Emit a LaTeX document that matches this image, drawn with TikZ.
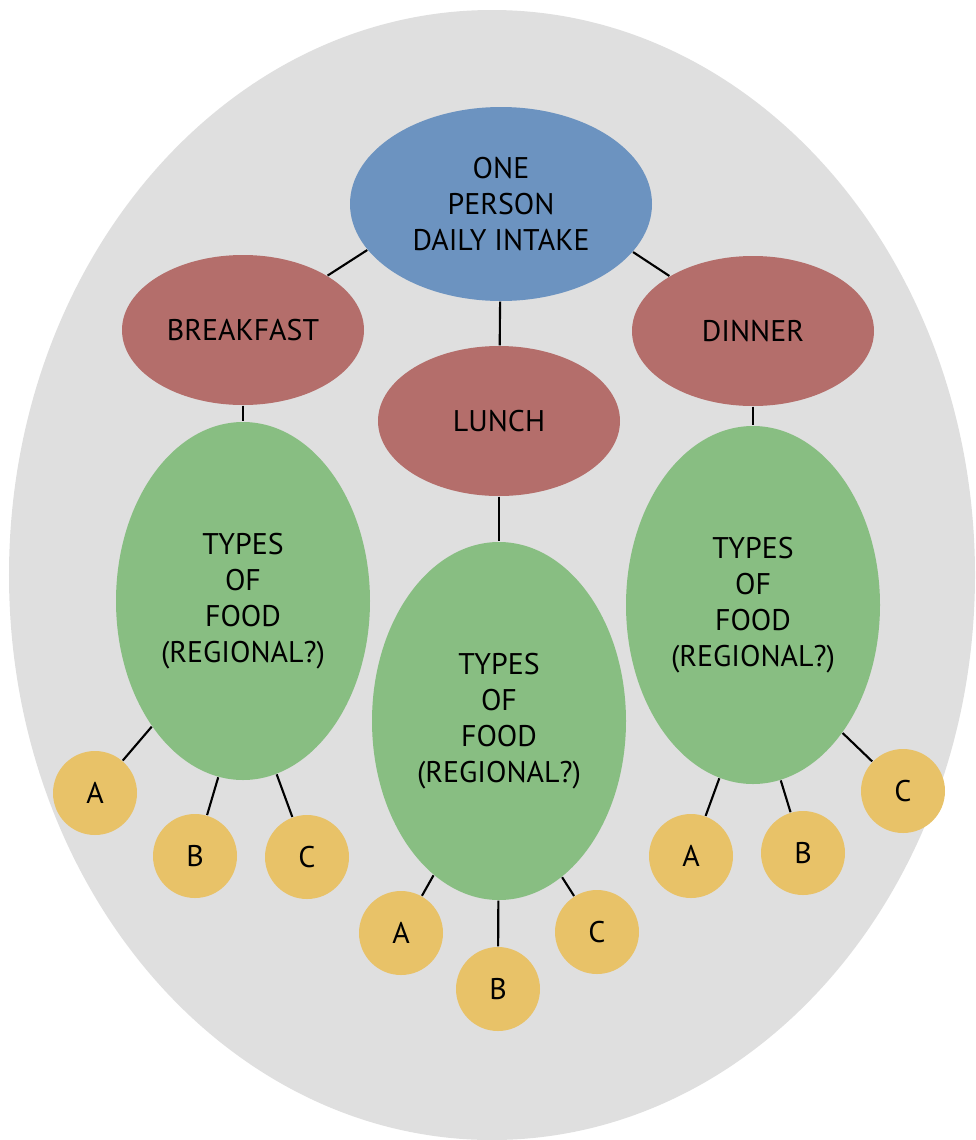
\documentclass[tikz,border=0pt]{standalone}
\usepackage{fontspec}
\setmainfont{PT Sans}
\usetikzlibrary{shapes.geometric}
\definecolor{bgray}{RGB}{223,223,223}
\definecolor{intakeblue}{RGB}{108,147,192}
\definecolor{mealred}{RGB}{180,110,107}
\definecolor{foodgreen}{RGB}{136,190,130}
\definecolor{itemyellow}{RGB}{232,194,104}
\begin{document}
\begin{tikzpicture}[
    font=\fontsize{8.5}{10.2}\selectfont,
    intake/.style={ellipse, fill=intakeblue, inner sep=0pt, minimum width=3.02cm, minimum height=1.94cm, align=center},
    meal/.style={ellipse, fill=mealred, inner sep=0pt, minimum width=2.42cm, minimum height=1.5cm},
    food/.style={ellipse, fill=foodgreen, inner sep=0pt, minimum width=2.54cm, minimum height=3.58cm, align=center},
    item/.style={circle, fill=itemyellow, inner sep=0pt, minimum size=0.84cm},
    link/.style={line width=0.6pt}
    ]
        \clip (0, 0) rectangle (9.75, -11.4);
        \fill[bgray] (4.92, -5.75) ellipse (4.83 and 5.65);

        \node[intake] (top) at (5.01, -2.04) {ONE\\PERSON\\DAILY INTAKE};
        \node[meal] (breakfast) at (2.43, -3.30) {BREAKFAST};
        \node[meal] (lunch) at (4.99, -4.21) {LUNCH};
        \node[meal] (dinner) at (7.53, -3.31) {DINNER};

        \node[food] (bfood) at (2.43, -6.01) {TYPES\\OF\\FOOD\\(REGIONAL?)};
        \node[food] (lfood) at (4.99, -7.21) {TYPES\\OF\\FOOD\\(REGIONAL?)};
        \node[food] (dfood) at (7.53, -6.05) {TYPES\\OF\\FOOD\\(REGIONAL?)};

        \node[item] (ba) at (0.95, -7.93) {A};
        \node[item] (bb) at (1.95, -8.56) {B};
        \node[item] (bc) at (3.07, -8.57) {C};
        \node[item] (la) at (4.01, -9.33) {A};
        \node[item] (lb) at (4.98, -9.89) {B};
        \node[item] (lc) at (5.97, -9.32) {C};
        \node[item] (da) at (6.91, -8.56) {A};
        \node[item] (db) at (8.03, -8.53) {B};
        \node[item] (dc) at (9.03, -7.91) {C};

        \draw[link] (top.199) -- (breakfast);
        \draw[link] (top) -- (lunch);
        \draw[link] (top.340) -- (dinner);
        \draw[link] (breakfast) -- (bfood);
        \draw[link] (lunch) -- (lfood);
        \draw[link] (dinner) -- (dfood);

        \draw[link] (bfood.234) -- (ba);
        \draw[link] (bfood.262) -- (bb);
        \draw[link] (bfood.281) -- (bc);
        \draw[link] (lfood.247) -- (la);
        \draw[link] (lfood) -- (lb);
        \draw[link] (lfood.292) -- (lc);
        \draw[link] (dfood.259) -- (da);
        \draw[link] (dfood.279) -- (db);
        \draw[link] (dfood.305) -- (dc);
\end{tikzpicture}
\end{document}
